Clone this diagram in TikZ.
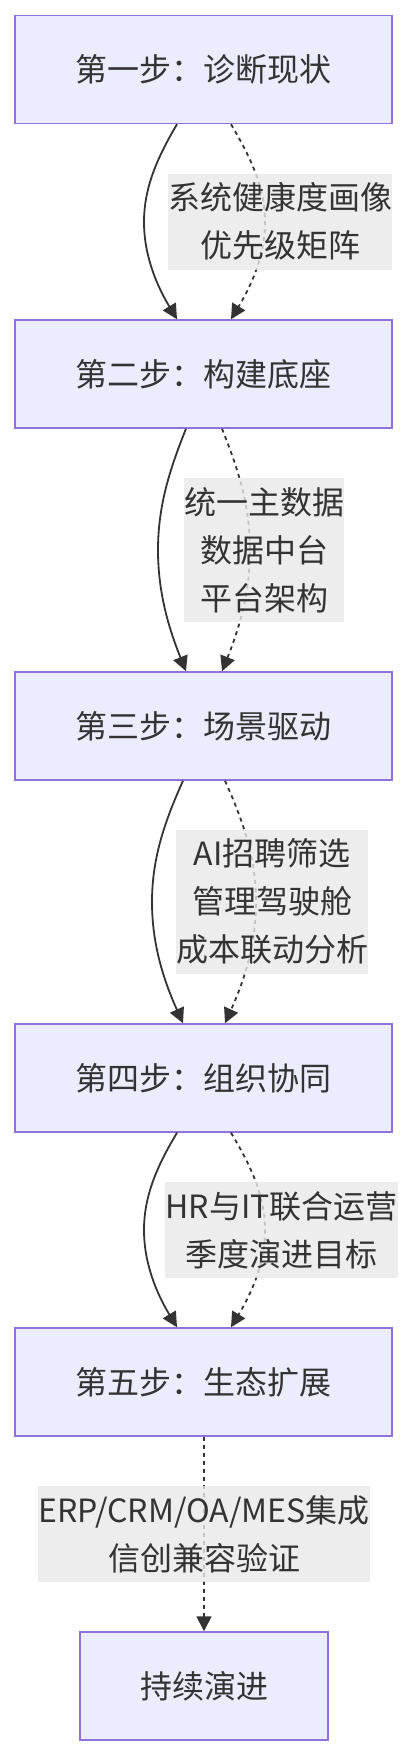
\documentclass[tikz,border=0pt]{standalone}
\usepackage{fontspec}
\setmainfont{Noto Sans CJK SC}
\usetikzlibrary{arrows.meta}
\definecolor{boxfill}{HTML}{ECECFF}
\definecolor{boxline}{HTML}{9370DB}
\definecolor{ink}{HTML}{333333}
\definecolor{lblfill}{HTML}{E8E8E8}
\begin{document}
\begin{tikzpicture}[x=1pt,y=-1pt,
  stepbox/.style={draw=boxline, fill=boxfill, line width=1.5pt, minimum height=108pt, inner sep=0pt, text=ink, font=\fontsize{32pt}{40pt}\selectfont},
  lbl/.style={fill=lblfill, fill opacity=0.8, text opacity=1, text=ink, inner xsep=0pt, inner ysep=0pt, align=center, font=\fontsize{32pt}{48pt}\selectfont},
  solidedge/.style={draw=ink, line width=1.8pt, -{Triangle[length=15pt,width=15pt]}},
  dotedge/.style={draw=ink, line width=1.8pt, dash pattern=on 4pt off 4pt, -{Triangle[length=15pt,width=15pt]}}
]
\useasboundingbox (0,0) rectangle (410,1756);
\node[stepbox, minimum width=377pt] (s1) at (203.5,69.5) {第一步：诊断现状};
\node[stepbox, minimum width=377pt] (s2) at (203.5,374) {第二步：构建底座};
\node[stepbox, minimum width=377pt] (s3) at (203.5,726) {第三步：场景驱动};
\node[stepbox, minimum width=377pt] (s4) at (203.5,1078) {第四步：组织协同};
\node[stepbox, minimum width=377pt] (s5) at (203.5,1382) {第五步：生态扩展};
\node[stepbox, minimum width=248pt] (s6) at (204,1686) {持续演进};

% edges 1
\draw[solidedge] ([xshift=-26.5pt]s1.south) .. controls (157,158) and (144,188) .. (144,222) .. controls (144,256) and (157,286) .. ([xshift=-26.5pt]s2.north);
\draw[dotedge] ([xshift=27.5pt]s1.south) .. controls (251,158) and (265,188) .. (265,222) .. controls (265,256) and (251,286) .. ([xshift=27.5pt]s2.north);
% edges 2
\draw[solidedge] ([xshift=-17.5pt]s2.south) .. controls (169,471) and (158,507) .. (158,550) .. controls (158,593) and (169,629) .. ([xshift=-17.5pt]s3.north);
\draw[dotedge] ([xshift=18.5pt]s2.south) .. controls (239,471) and (250,507) .. (250,550) .. controls (250,593) and (239,629) .. ([xshift=18.5pt]s3.north);
% edges 3
\draw[solidedge] ([xshift=-20.5pt]s3.south) .. controls (164,823) and (152,859) .. (152,902) .. controls (152,945) and (164,981) .. ([xshift=-20.5pt]s4.north);
\draw[dotedge] ([xshift=21.5pt]s3.south) .. controls (244,823) and (256,859) .. (256,902) .. controls (256,945) and (244,981) .. ([xshift=21.5pt]s4.north);
% edges 4
\draw[solidedge] ([xshift=-26.5pt]s4.south) .. controls (157,1166) and (144,1196) .. (144,1230) .. controls (144,1264) and (157,1294) .. ([xshift=-26.5pt]s5.north);
\draw[dotedge] ([xshift=27.5pt]s4.south) .. controls (251,1166) and (265,1196) .. (265,1230) .. controls (265,1264) and (251,1294) .. ([xshift=27.5pt]s5.north);
% edge 5
\draw[dotedge] (s5.south -| s6.north) -- (s6.north);

% labels
\node[lbl, minimum height=96pt] (l1) at (280,221.5) {系统健康度画像\\优先级矩阵};
\node[lbl, minimum height=144pt] (l2) at (264,550) {统一主数据\\数据中台\\平台架构};
\node[lbl, minimum height=144pt] (l3) at (272,901.5) {AI招聘筛选\\管理驾驶舱\\成本联动分析};
\node[lbl, minimum height=96pt] (l4) at (281.5,1230) {HR与IT联合运营\\季度演进目标};
\node[lbl, minimum height=96pt] (l5) at (204,1534) {ERP/CRM/OA/MES集成\\信创兼容验证};
\end{tikzpicture}
\end{document}
